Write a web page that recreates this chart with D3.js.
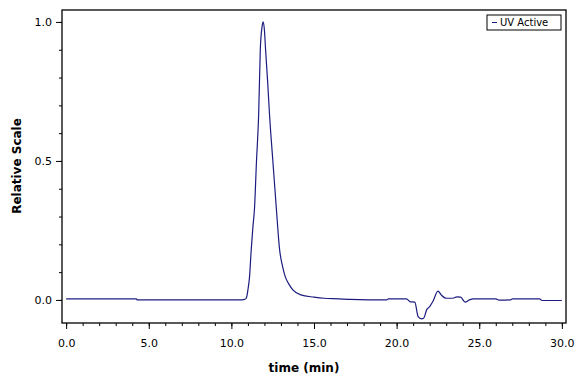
<!DOCTYPE html>
<html>
<head>
<meta charset="utf-8">
<script src="https://d3js.org/d3.v7.min.js"></script>
<style>
  body { margin: 0; background: white; }
  text { font-family: "DejaVu Sans", sans-serif; }
</style>
</head>
<body>
<svg></svg>
<script>
// chromatogram trace
let times  = [0, 4.25, 4.3, 10.5, 10.8, 10.9, 11.0, 11.1, 11.2, 11.3, 11.4, 11.52, 11.65, 11.75, 11.85, 11.92, 12.0, 12.07, 12.2, 12.31, 12.51, 12.72, 12.92, 13.1, 13.26, 13.5, 13.72, 14.2, 15.0, 15.6, 16.5, 17.2, 19.4, 19.5, 20.6, 20.8, 21.1, 21.3, 21.5, 21.63, 21.83, 22.0, 22.2, 22.5, 22.7, 23.0, 23.4, 23.65, 23.87, 24.15, 24.4, 24.65, 26.0, 26.2, 26.9, 27.0, 28.65, 28.8, 30.0]
let values = [0.004, 0.004, 0.0, 0.0, 0.002, 0.006, 0.036, 0.084, 0.18, 0.26, 0.33, 0.50, 0.665, 0.9, 0.98, 1.0, 0.97, 0.9, 0.78, 0.665, 0.50, 0.33, 0.18, 0.12, 0.084, 0.055, 0.036, 0.018, 0.01, 0.006, 0.004, 0.002, 0.0, 0.004, 0.004, -0.006, -0.008, -0.06, -0.068, -0.066, -0.034, -0.024, -0.005, 0.032, 0.018, 0.006, 0.006, 0.011, 0.010, -0.008, 0.0, 0.004, 0.004, -0.001, 0.0, 0.004, 0.004, -0.002, -0.002]
let xTicks = [0, 5, 10, 15, 20, 25, 30]
let yTicks = [0, 0.5, 1.0]
let seriesName = "UV Active"

let width = 576, height = 384
let margin = {top: 10, right: 10, bottom: 61, left: 62}
let lineColor = "#1c1c80"

let svg = d3.select("svg")
    .attr("width", width)
    .attr("height", height)

let x = d3.scaleLinear()
    .domain([-0.25, 30.25])
    .range([margin.left, width - margin.right])

let y = d3.scaleLinear()
    .domain([-0.083, 1.043])
    .range([height - margin.bottom, margin.top])

// x axis: minor ticks every 1, labels every 5
svg.append("g")
    .attr("transform", "translate(0," + (height - margin.bottom) + ")")
    .call(d3.axisBottom(x).tickValues(d3.range(0, 31, 1)).tickSize(3).tickFormat(""))
    .call(g => g.select(".domain").remove())
svg.append("g")
    .attr("transform", "translate(0," + (height - margin.bottom) + ")")
    .call(d3.axisBottom(x).tickValues(xTicks).tickSize(6).tickPadding(10).tickFormat(d3.format(".1f")))
    .call(g => g.select(".domain").remove())
    .call(g => g.selectAll("text").style("font-size", "11px").attr("fill", "#000"))

// y axis: minor ticks every 0.1
svg.append("g")
    .attr("transform", "translate(" + margin.left + ",0)")
    .call(d3.axisLeft(y).tickValues(d3.range(0, 1.01, 0.1)).tickSize(3).tickFormat(""))
    .call(g => g.select(".domain").remove())
svg.append("g")
    .attr("transform", "translate(" + margin.left + ",0)")
    .call(d3.axisLeft(y).tickValues(yTicks).tickSize(6).tickPadding(4).tickFormat(d3.format(".1f")))
    .call(g => g.select(".domain").remove())
    .call(g => g.selectAll("text").style("font-size", "11px").attr("fill", "#000"))

// frame
svg.append("rect")
    .attr("x", margin.left)
    .attr("y", margin.top)
    .attr("width", width - margin.left - margin.right)
    .attr("height", height - margin.top - margin.bottom)
    .attr("fill", "none")
    .attr("stroke", "#000")
    .attr("stroke-width", 1.3)

// trace
let line = d3.line()
    .x((d, i) => x(times[i]))
    .y(d => y(d))
    .curve(d3.curveMonotoneX)

svg.append("path")
    .datum(values)
    .attr("d", line)
    .attr("fill", "none")
    .attr("stroke", lineColor)
    .attr("stroke-width", 1.2)

// axis titles
svg.append("text")
    .attr("x", 304)
    .attr("y", 372)
    .attr("text-anchor", "middle")
    .style("font-size", "12px")
    .style("font-weight", "bold")
    .text("time (min)")

svg.append("text")
    .attr("transform", "translate(21,166) rotate(-90)")
    .attr("text-anchor", "middle")
    .style("font-size", "12px")
    .style("font-weight", "bold")
    .text("Relative Scale")

// legend
let lg = svg.append("g").attr("transform", "translate(487,15)")
lg.append("rect")
    .attr("width", 74).attr("height", 15)
    .attr("fill", "white").attr("stroke", "#000")
lg.append("line")
    .attr("x1", 5).attr("x2", 10).attr("y1", 7.5).attr("y2", 7.5)
    .attr("stroke", lineColor)
lg.append("text")
    .attr("x", 13).attr("y", 11)
    .style("font-size", "10px")
    .text(seriesName)
</script>
</body>
</html>
